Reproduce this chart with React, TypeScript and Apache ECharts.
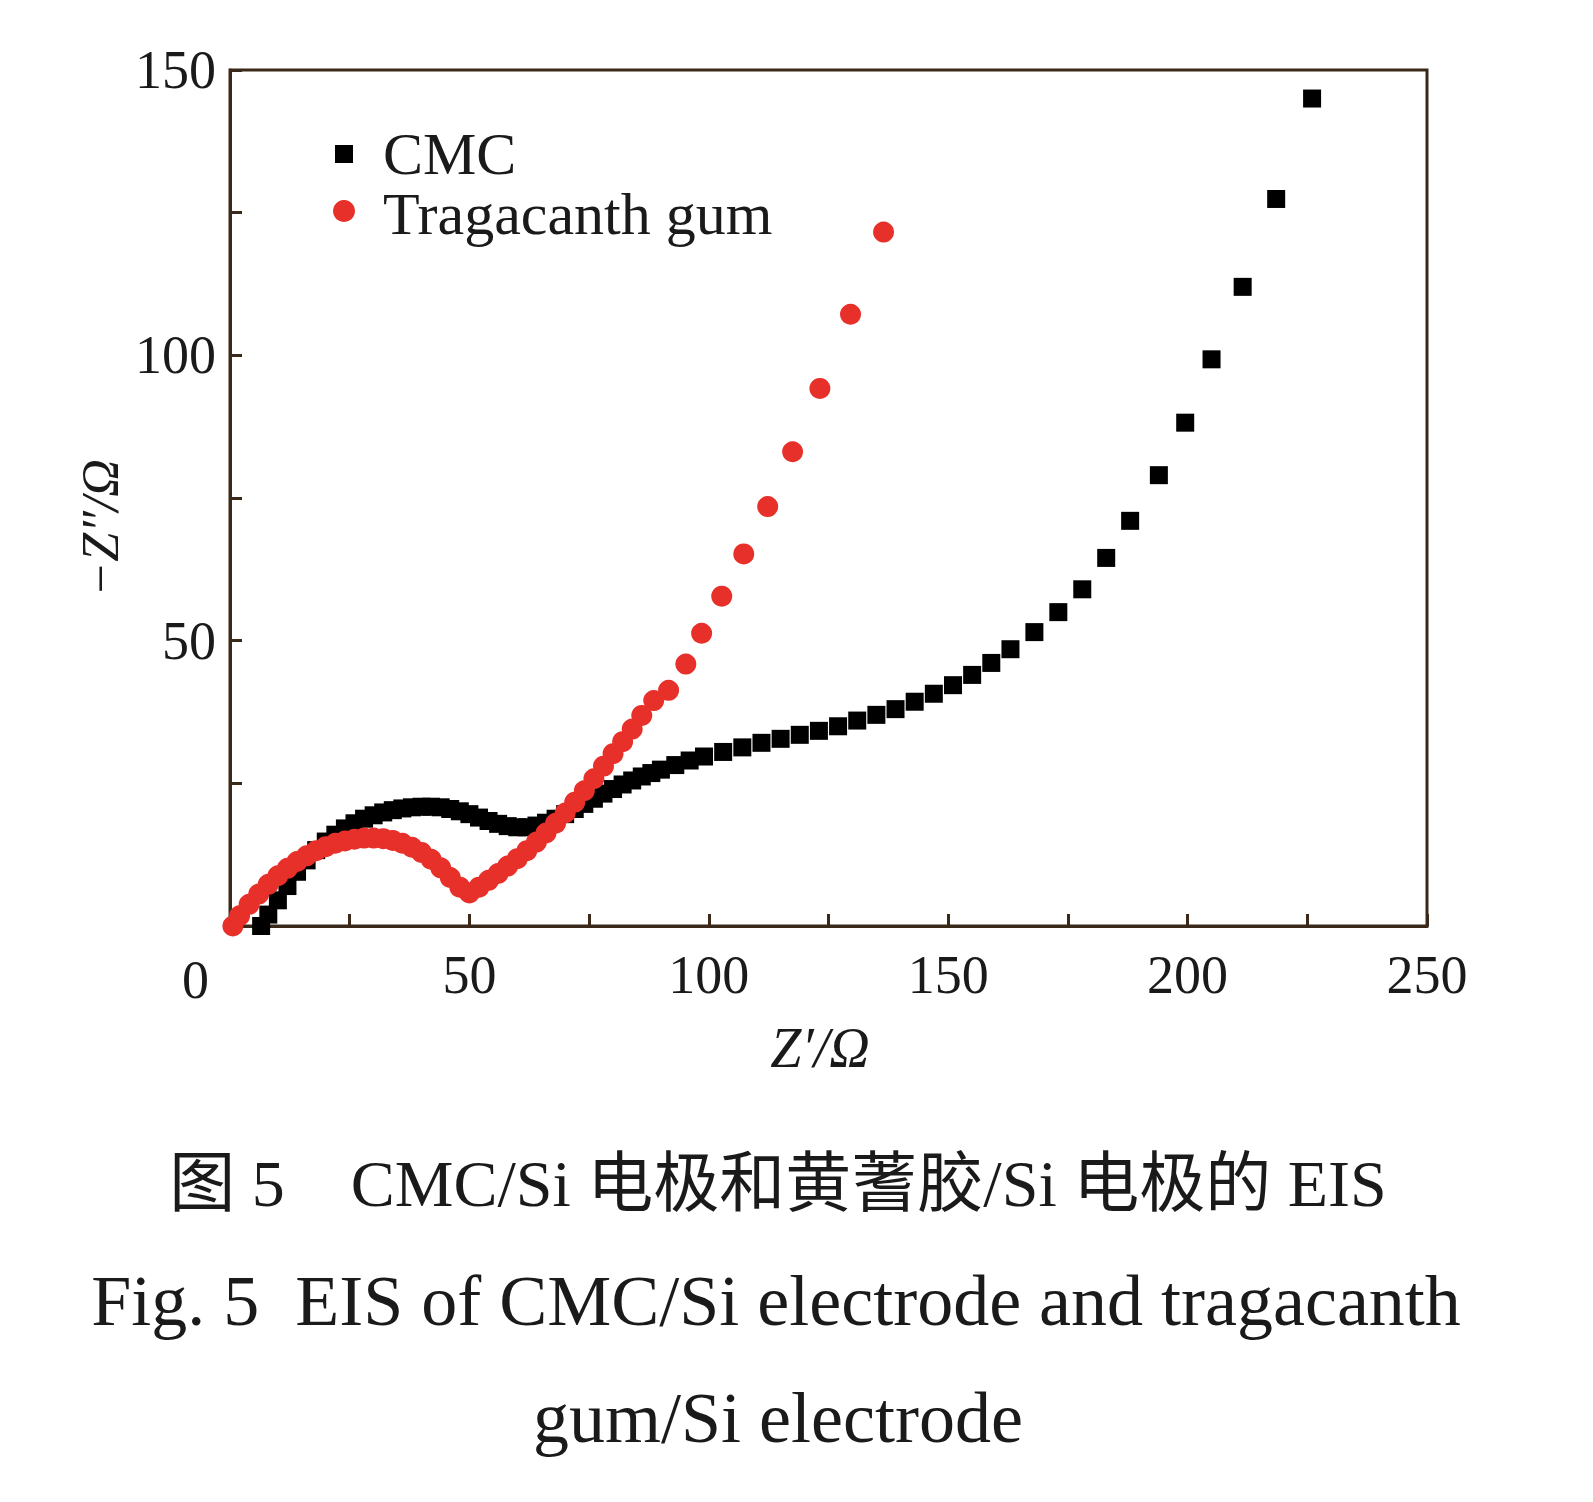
import { useEffect, useRef } from 'react';
import * as echarts from 'echarts';

const cmcX = [6.5, 8, 10, 12, 14, 16, 18, 20, 22, 24, 26, 28, 30, 32, 34, 36, 38, 40, 42, 44, 46, 48, 50, 52, 54, 56, 58, 60, 62, 64, 66, 68, 70, 72, 74, 76, 78, 80, 82, 84, 86, 88, 90, 93, 96, 99, 103, 107, 111, 115, 119, 123, 127, 131, 135, 139, 143, 147, 151, 155, 159, 163, 168, 173, 178, 183, 188, 194, 199.5, 205, 211.5, 218.5, 226];
const cmcY = [0, 2, 4.5, 7, 9.5, 11.5, 13.3, 14.8, 16, 17.1, 18, 18.8, 19.4, 19.9, 20.3, 20.6, 20.8, 20.9, 20.9, 20.8, 20.5, 20.1, 19.6, 19, 18.4, 17.9, 17.5, 17.3, 17.3, 17.6, 18.1, 18.8, 19.6, 20.5, 21.4, 22.3, 23.2, 24, 24.8, 25.5, 26.2, 26.8, 27.4, 28.2, 29, 29.7, 30.5, 31.3, 32.1, 32.8, 33.5, 34.2, 35, 36, 37, 38, 39.3, 40.7, 42.2, 44, 46.1, 48.5, 51.5, 55, 59, 64.5, 71, 79, 88.2, 99.3, 112, 127.4, 145];
const tragX = [0.6, 2, 4, 6, 8, 10, 12, 14, 16, 18, 20, 22, 24, 26, 28, 30, 32, 34, 36, 38, 40, 42, 44, 46, 48, 50, 52, 54, 56, 58, 60, 62, 64, 66, 68, 70, 72, 74, 76, 78, 80, 82, 84, 86, 88.5, 91.6, 95.2, 98.5, 102.7, 107.3, 112.3, 117.5, 123.2, 129.6, 136.5];
const tragY = [0, 1.8, 3.8, 5.6, 7.3, 8.8, 10.1, 11.3, 12.3, 13.2, 13.9, 14.5, 14.9, 15.2, 15.4, 15.4, 15.3, 15, 14.5, 13.8, 12.9, 11.7, 10.2, 8.5, 6.8, 5.8, 6.8, 8, 9.2, 10.5, 11.8, 13.2, 14.7, 16.3, 18, 19.8, 21.7, 23.7, 25.8, 28, 30.2, 32.3, 34.5, 36.9, 39.5, 41.3, 45.9, 51.3, 57.8, 65.2, 73.5, 83.1, 94.2, 107.2, 121.6];

const serif = '"Liberation Serif", "Noto Sans CJK SC", serif';
const axisColor = '#3a2818';

export default function App() {
  const ref = useRef<HTMLDivElement>(null);

  useEffect(() => {
    if (!ref.current) return;
    const chart = echarts.init(ref.current, undefined, { renderer: 'svg' });
    const axisCommon = {
      axisLine: { lineStyle: { color: axisColor, width: 3 } },
      axisTick: { inside: true, length: 12, lineStyle: { color: axisColor, width: 3 } },
      minorTick: { show: true, splitNumber: 2, length: 12, lineStyle: { color: axisColor, width: 3 } },
      splitLine: { show: false },
      axisLabel: { color: '#1a1a1a', fontSize: 54, fontFamily: serif },
    };
    chart.setOption({
      animation: false,
      backgroundColor: '#fff',
      grid: { left: 222, top: 62, width: 1197, height: 856, show: true, borderColor: axisColor, borderWidth: 3 },
      xAxis: {
        type: 'value', min: 0, max: 250, interval: 50,
        ...axisCommon,
        axisLabel: { ...axisCommon.axisLabel, margin: 22, showMaxLabel: true, formatter: (v: number) => (v === 0 ? '' : String(v)) },
      },
      yAxis: {
        type: 'value', min: 0, max: 150, interval: 50,
        ...axisCommon,
        axisLabel: { ...axisCommon.axisLabel, margin: 14, formatter: (v: number) => (v === 0 ? '' : String(v)) },
      },
      series: [
        {
          name: 'CMC', type: 'scatter', symbol: 'rect', symbolSize: 18,
          itemStyle: { color: '#000', opacity: 1 },
          data: cmcX.map((x, i) => [x, cmcY[i]]),
        },
        {
          name: 'Tragacanth gum', type: 'scatter', symbol: 'circle', symbolSize: 21,
          itemStyle: { color: '#e8302a', opacity: 1 },
          data: tragX.map((x, i) => [x, tragY[i]]),
        },
      ],
      graphic: [
        { type: 'text', left: 174, top: 945, style: { text: '0', font: `54px ${serif}`, fill: '#1a1a1a' } },
        { type: 'rect', shape: { x: 327, y: 137, width: 18, height: 18 }, style: { fill: '#000' } },
        { type: 'circle', shape: { cx: 336, cy: 203, r: 11 }, style: { fill: '#e8302a' } },
        { type: 'text', x: 375, y: 146, style: { text: 'CMC', font: `60px ${serif}`, fill: '#1a1a1a', verticalAlign: 'middle' } },
        { type: 'text', x: 375, y: 206, style: { text: 'Tragacanth gum', font: `60px ${serif}`, fill: '#1a1a1a', verticalAlign: 'middle' } },
        {
          type: 'text', x: 92, y: 520, rotation: Math.PI / 2,
          style: { text: '−Z″/Ω', font: `italic 52px ${serif}`, fill: '#1a1a1a', align: 'center', verticalAlign: 'middle' },
        },
        { type: 'text', x: 812, y: 1040, style: { text: 'Z′/Ω', font: `italic 56px ${serif}`, fill: '#1a1a1a', align: 'center', verticalAlign: 'middle' } },
        { type: 'text', x: 770, y: 1175, style: { text: '图 5\u3000CMC/Si 电极和黄蓍胶/Si 电极的 EIS', font: `66px ${serif}`, fill: '#1a1a1a', align: 'center', verticalAlign: 'middle' } },
        { type: 'text', x: 768, y: 1293, style: { text: 'Fig. 5  EIS of CMC/Si electrode and tragacanth', font: `72px ${serif}`, fill: '#1a1a1a', align: 'center', verticalAlign: 'middle' } },
        { type: 'text', x: 770, y: 1410, style: { text: 'gum/Si electrode', font: `72px ${serif}`, fill: '#1a1a1a', align: 'center', verticalAlign: 'middle' } },
      ],
    });
    return () => chart.dispose();
  }, []);

  return <div ref={ref} style={{ width: 1577, height: 1480 }} />;
}
